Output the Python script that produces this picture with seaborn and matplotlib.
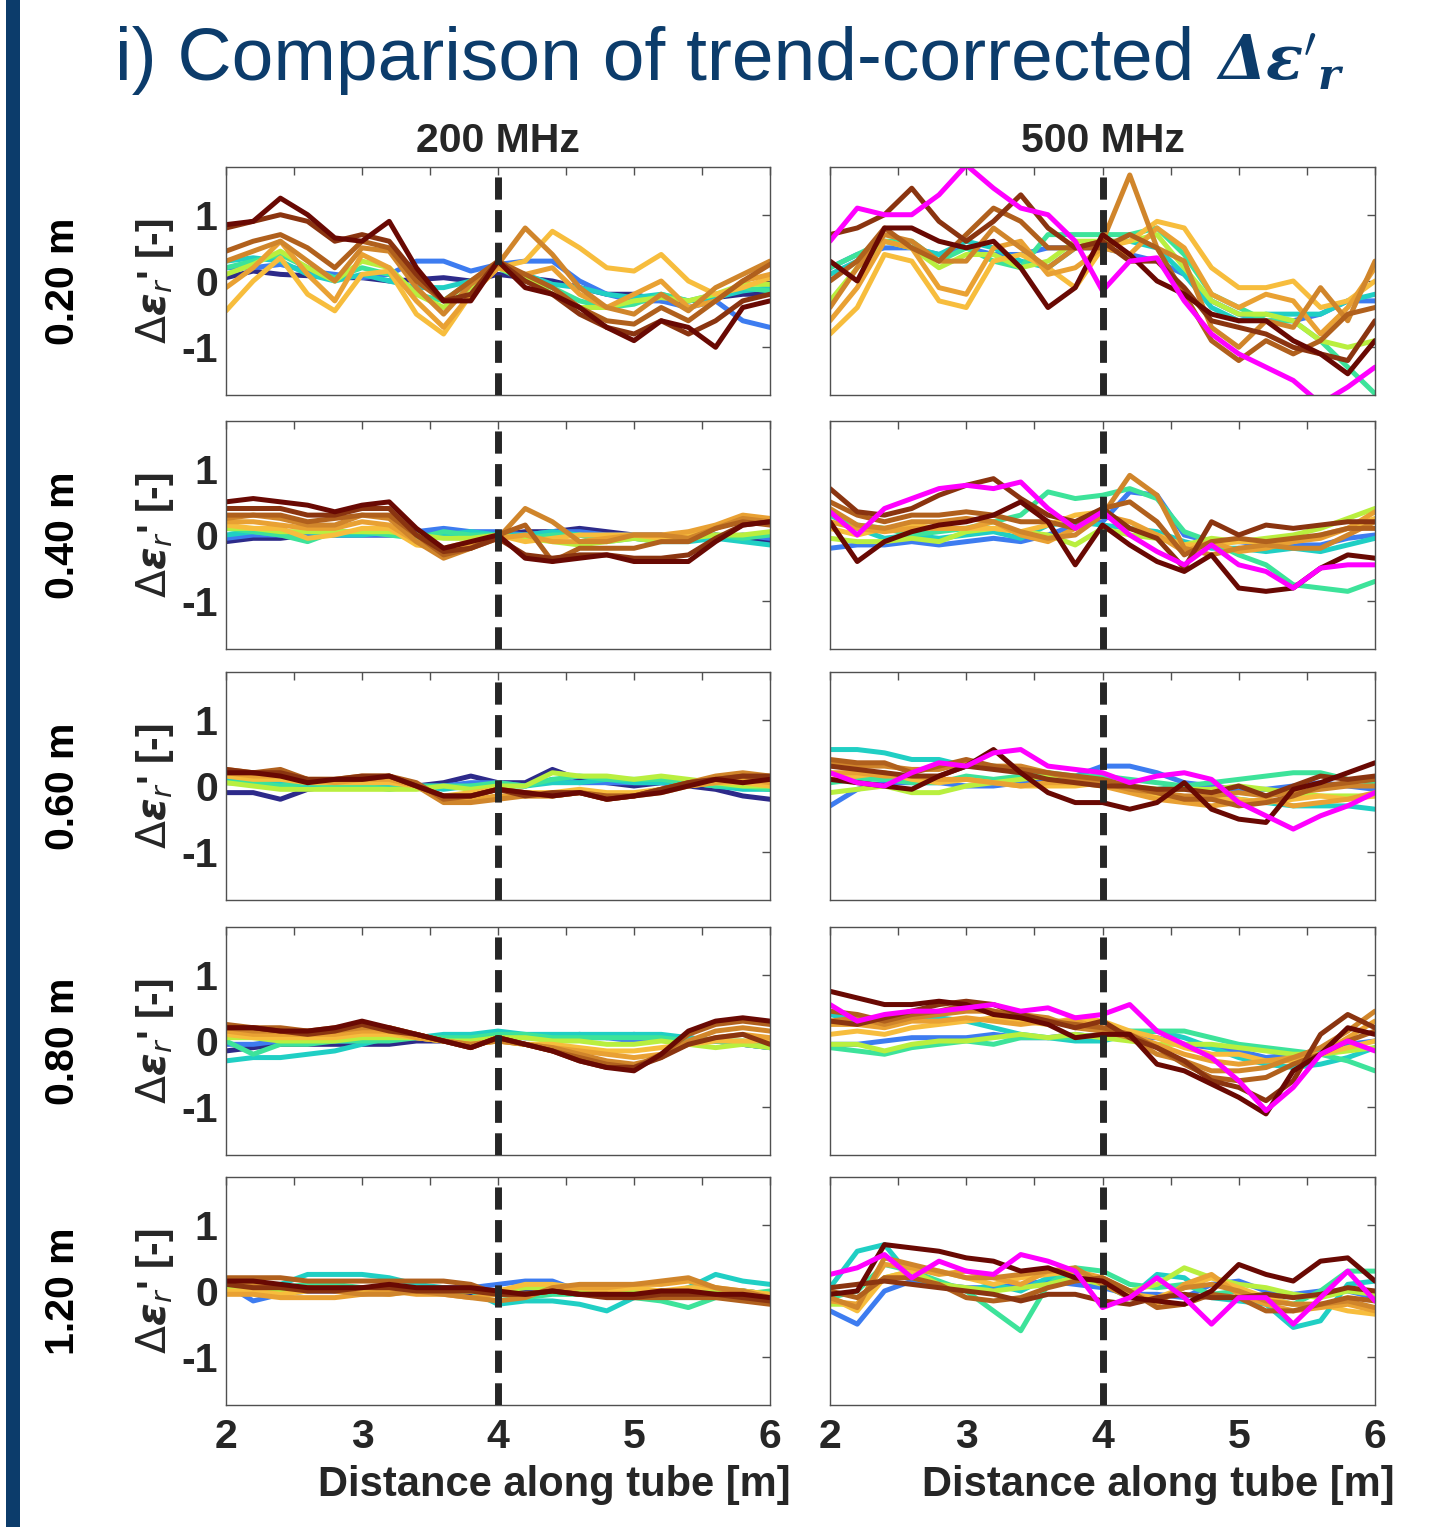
import numpy as np
import pandas as pd
import matplotlib
matplotlib.use("Agg")
import matplotlib.pyplot as plt
import seaborn as sns
from matplotlib.patches import Rectangle

# ---------------- data ----------------
x_m = [2.0, 2.2, 2.4, 2.6, 2.8, 3.0, 3.2, 3.4, 3.6, 3.8, 4.0,
       4.2, 4.4, 4.6, 4.8, 5.0, 5.2, 5.4, 5.6, 5.8, 6.0]

depths = ["0.20 m", "0.40 m", "0.60 m", "0.80 m", "1.20 m"]
freqs = ["200 MHz", "500 MHz"]
ytick_vals = [-1, 0, 1]
ytick_labels = ["-1", "0", "1"]
xtick_vals = [2, 2.5, 3, 3.5, 4, 4.5, 5, 5.5, 6]
xtick_labels = ["2", "", "3", "", "4", "", "5", "", "6"]
boundary_x = 4.0

# 200 MHz, 0.20 m  (runs ordered early -> late)
f200_d020 = [
    [0.05, 0.15, 0.10, 0.08, 0.05, 0.05, 0.00, 0.02, 0.05, 0.00, 0.10, 0.05, 0.00, -0.10, -0.20, -0.20, -0.30, -0.30, -0.25, -0.20, -0.20],
    [0.20, 0.20, 0.25, 0.15, 0.10, 0.05, 0.10, 0.30, 0.30, 0.15, 0.25, 0.30, 0.30, 0.00, -0.20, -0.30, -0.30, -0.40, -0.30, -0.60, -0.70],
    [0.30, 0.35, 0.30, 0.10, 0.00, 0.10, 0.00, -0.10, -0.10, 0.00, 0.20, 0.10, -0.05, -0.10, -0.20, -0.25, -0.20, -0.30, -0.25, -0.15, -0.10],
    [0.20, 0.30, 0.40, 0.20, 0.05, 0.20, 0.10, -0.20, -0.30, 0.00, 0.20, 0.00, -0.10, -0.30, -0.40, -0.35, -0.20, -0.30, -0.20, -0.10, -0.15],
    [0.10, 0.25, 0.45, 0.20, 0.00, 0.30, 0.20, -0.20, -0.40, -0.10, 0.20, 0.05, -0.20, -0.40, -0.40, -0.30, -0.25, -0.30, -0.20, -0.05, -0.05],
    [-0.45, 0.00, 0.35, -0.20, -0.45, 0.10, 0.15, -0.50, -0.80, -0.20, 0.20, 0.30, 0.75, 0.50, 0.20, 0.15, 0.40, 0.00, -0.20, -0.10, 0.05],
    [-0.10, 0.20, 0.60, 0.10, -0.30, 0.40, 0.20, -0.30, -0.70, -0.20, 0.20, 0.10, 0.20, -0.20, -0.40, -0.20, 0.00, -0.40, -0.30, 0.00, 0.10],
    [0.30, 0.45, 0.60, 0.30, 0.00, 0.50, 0.45, -0.10, -0.50, -0.05, 0.25, 0.80, 0.40, -0.10, -0.40, -0.50, -0.20, -0.45, -0.10, 0.10, 0.30],
    [0.45, 0.60, 0.70, 0.50, 0.20, 0.60, 0.50, 0.00, -0.30, 0.00, 0.30, 0.10, -0.10, -0.40, -0.60, -0.65, -0.40, -0.60, -0.30, 0.00, 0.25],
    [0.80, 0.90, 1.00, 0.90, 0.60, 0.70, 0.60, 0.10, -0.30, -0.20, 0.30, 0.00, -0.20, -0.50, -0.70, -0.80, -0.60, -0.80, -0.60, -0.30, -0.20],
    [0.85, 0.90, 1.25, 1.00, 0.65, 0.60, 0.90, 0.20, -0.30, -0.30, 0.30, -0.10, -0.20, -0.40, -0.70, -0.90, -0.60, -0.70, -1.00, -0.40, -0.30],
]
f200_d040 = [
    [-0.10, -0.05, -0.05, 0.00, 0.00, 0.00, 0.00, 0.00, 0.05, 0.00, 0.00, 0.05, 0.05, 0.10, 0.05, 0.00, 0.00, -0.05, 0.00, -0.05, -0.10],
    [-0.05, 0.00, 0.00, 0.00, 0.00, 0.00, 0.00, 0.05, 0.10, 0.05, 0.05, 0.00, 0.05, 0.05, 0.00, 0.00, -0.05, -0.05, -0.05, 0.00, -0.05],
    [0.00, 0.05, 0.00, 0.05, 0.00, 0.00, 0.05, 0.00, 0.00, 0.05, 0.00, 0.00, 0.05, 0.00, -0.05, -0.05, -0.10, -0.10, -0.05, -0.10, -0.15],
    [0.10, 0.05, 0.00, -0.10, 0.05, 0.05, 0.00, -0.05, 0.05, 0.00, 0.00, -0.05, 0.00, 0.00, -0.10, -0.05, -0.10, -0.05, 0.00, -0.05, 0.00],
    [0.10, 0.10, 0.05, 0.05, 0.05, 0.05, 0.05, 0.00, -0.05, -0.05, 0.00, -0.05, -0.10, -0.15, -0.10, -0.05, -0.10, -0.05, 0.00, 0.00, 0.05],
    [0.15, 0.10, 0.10, -0.05, 0.00, 0.10, 0.10, -0.15, -0.20, -0.10, 0.00, -0.10, -0.05, 0.00, 0.00, 0.00, -0.05, 0.00, 0.10, 0.25, 0.20],
    [0.20, 0.20, 0.15, 0.10, 0.10, 0.20, 0.15, -0.10, -0.25, -0.15, -0.05, 0.00, -0.10, -0.10, -0.05, 0.00, 0.00, 0.05, 0.15, 0.30, 0.25],
    [0.25, 0.30, 0.25, 0.15, 0.15, 0.30, 0.25, -0.10, -0.35, -0.20, -0.05, 0.40, 0.20, -0.10, -0.10, 0.00, 0.00, -0.05, 0.10, 0.25, 0.20],
    [0.30, 0.30, 0.30, 0.20, 0.25, 0.30, 0.30, 0.00, -0.30, -0.20, 0.00, 0.15, -0.40, -0.20, -0.20, -0.20, -0.10, -0.10, 0.10, 0.20, 0.15],
    [0.40, 0.40, 0.40, 0.30, 0.30, 0.40, 0.40, 0.00, -0.25, -0.20, -0.05, -0.30, -0.35, -0.30, -0.30, -0.35, -0.35, -0.30, -0.05, 0.15, 0.20],
    [0.50, 0.55, 0.50, 0.45, 0.35, 0.45, 0.50, 0.10, -0.20, -0.10, 0.00, -0.35, -0.40, -0.35, -0.30, -0.40, -0.40, -0.40, -0.10, 0.15, 0.20],
]
f200_d060 = [
    [-0.10, -0.10, -0.20, -0.05, 0.00, 0.00, 0.00, 0.00, 0.05, 0.15, 0.05, 0.05, 0.25, 0.10, 0.05, 0.00, 0.05, 0.00, -0.05, -0.15, -0.20],
    [0.05, 0.05, 0.00, 0.00, 0.00, 0.00, 0.00, 0.00, 0.00, 0.05, 0.05, 0.00, 0.10, 0.05, 0.05, 0.05, 0.05, 0.05, 0.00, 0.00, -0.05],
    [0.10, 0.05, 0.05, 0.00, 0.00, 0.00, 0.00, 0.00, -0.05, 0.00, 0.00, 0.00, 0.05, 0.05, 0.10, 0.05, 0.05, 0.05, 0.00, -0.05, -0.05],
    [0.05, 0.05, 0.00, 0.05, 0.00, 0.00, -0.05, 0.00, 0.00, 0.00, 0.05, 0.00, 0.10, 0.15, 0.10, 0.10, 0.10, 0.05, 0.00, 0.00, -0.05],
    [0.05, 0.00, -0.05, -0.05, -0.05, -0.05, -0.05, -0.05, 0.00, -0.05, 0.00, 0.00, 0.20, 0.15, 0.15, 0.10, 0.15, 0.10, 0.05, 0.00, 0.00],
    [0.15, 0.10, 0.10, 0.05, 0.05, 0.05, 0.05, 0.00, -0.15, -0.10, -0.05, -0.10, -0.10, -0.05, -0.10, -0.10, -0.05, 0.00, 0.05, 0.05, 0.00],
    [0.20, 0.15, 0.15, 0.10, 0.05, 0.10, 0.10, 0.00, -0.20, -0.20, -0.15, -0.15, -0.15, -0.10, -0.15, -0.15, -0.10, 0.00, 0.05, 0.10, 0.05],
    [0.25, 0.20, 0.20, 0.10, 0.10, 0.15, 0.15, 0.00, -0.25, -0.25, -0.20, -0.15, -0.15, -0.10, -0.20, -0.15, -0.05, 0.05, 0.15, 0.20, 0.15],
    [0.20, 0.20, 0.25, 0.10, 0.10, 0.10, 0.15, 0.05, -0.20, -0.15, -0.05, -0.10, -0.15, -0.10, -0.15, -0.15, -0.05, 0.05, 0.10, 0.15, 0.10],
    [0.25, 0.20, 0.20, 0.10, 0.10, 0.15, 0.15, 0.00, -0.15, -0.15, -0.05, -0.15, -0.10, -0.10, -0.20, -0.15, -0.05, 0.05, 0.10, 0.15, 0.15],
    [0.20, 0.20, 0.15, 0.05, 0.10, 0.10, 0.15, 0.00, -0.15, -0.15, -0.05, -0.10, -0.15, -0.10, -0.20, -0.15, -0.10, 0.00, 0.10, 0.05, 0.10],
]
f200_d080 = [
    [-0.15, -0.10, -0.05, -0.05, -0.05, -0.05, -0.05, 0.00, 0.00, 0.05, 0.10, 0.05, 0.05, 0.10, 0.05, 0.10, 0.05, 0.05, 0.00, -0.05, -0.10],
    [-0.05, -0.05, 0.00, 0.00, 0.00, 0.00, 0.05, 0.05, 0.05, 0.05, 0.05, 0.05, 0.05, 0.05, 0.05, 0.00, 0.05, 0.00, 0.00, -0.05, -0.10],
    [-0.30, -0.25, -0.25, -0.20, -0.15, -0.05, 0.05, 0.05, 0.10, 0.10, 0.15, 0.10, 0.10, 0.10, 0.10, 0.10, 0.10, 0.05, 0.00, -0.05, -0.10],
    [0.00, -0.20, -0.05, -0.05, 0.00, 0.00, 0.00, 0.05, 0.05, 0.05, 0.10, 0.10, 0.05, 0.05, 0.05, 0.05, 0.05, 0.00, 0.00, 0.00, -0.05],
    [0.05, 0.05, 0.00, 0.00, 0.00, 0.05, 0.05, 0.05, 0.00, 0.00, 0.05, 0.05, 0.00, 0.00, -0.05, -0.05, 0.00, -0.05, -0.10, -0.05, -0.10],
    [0.10, 0.05, 0.05, 0.05, 0.05, 0.10, 0.10, 0.05, 0.00, -0.05, 0.00, -0.05, -0.05, -0.10, -0.15, -0.15, -0.10, -0.05, 0.00, 0.00, 0.00],
    [0.15, 0.10, 0.10, 0.10, 0.10, 0.15, 0.15, 0.05, 0.00, -0.05, 0.00, -0.05, -0.10, -0.15, -0.20, -0.25, -0.20, -0.05, 0.05, 0.10, 0.05],
    [0.20, 0.15, 0.15, 0.15, 0.15, 0.20, 0.20, 0.10, 0.00, -0.05, 0.00, -0.05, -0.10, -0.20, -0.30, -0.35, -0.25, 0.00, 0.15, 0.20, 0.15],
    [0.25, 0.20, 0.20, 0.15, 0.20, 0.25, 0.20, 0.10, 0.00, -0.10, 0.05, -0.05, -0.15, -0.25, -0.35, -0.40, -0.20, 0.10, 0.25, 0.30, 0.25],
    [0.20, 0.20, 0.15, 0.10, 0.15, 0.25, 0.15, 0.10, 0.00, -0.10, 0.05, -0.05, -0.15, -0.30, -0.40, -0.40, -0.25, -0.05, 0.05, 0.10, -0.05],
    [0.20, 0.20, 0.15, 0.15, 0.20, 0.30, 0.20, 0.10, 0.00, -0.10, 0.05, -0.05, -0.15, -0.30, -0.40, -0.45, -0.20, 0.15, 0.30, 0.35, 0.30],
]
f200_d120 = [
    [0.05, 0.05, 0.00, 0.00, 0.00, 0.00, 0.00, 0.00, 0.00, -0.05, 0.00, 0.00, 0.00, -0.05, -0.05, 0.00, 0.00, 0.00, 0.00, 0.00, -0.05],
    [0.10, -0.15, -0.05, 0.00, 0.05, 0.05, 0.05, 0.05, 0.05, 0.05, 0.10, 0.15, 0.15, 0.00, -0.05, -0.05, 0.00, 0.00, 0.00, 0.00, -0.05],
    [0.15, 0.10, 0.10, 0.25, 0.25, 0.25, 0.20, 0.10, 0.05, 0.00, -0.20, -0.15, -0.15, -0.20, -0.30, -0.10, -0.05, 0.05, 0.25, 0.15, 0.10],
    [0.10, 0.05, 0.05, 0.10, 0.10, 0.05, 0.05, 0.05, 0.00, 0.00, -0.05, -0.10, -0.05, -0.05, -0.05, -0.10, -0.15, -0.25, -0.10, -0.05, 0.00],
    [0.05, 0.00, 0.00, 0.05, 0.05, 0.00, 0.00, 0.00, 0.00, 0.00, 0.00, 0.05, 0.05, 0.00, -0.05, 0.00, 0.00, 0.00, 0.00, 0.00, -0.05],
    [0.00, 0.00, -0.05, 0.00, 0.05, 0.00, -0.05, 0.00, 0.00, 0.00, 0.00, 0.10, 0.10, 0.05, 0.00, 0.05, 0.00, 0.05, 0.05, 0.00, -0.05],
    [-0.05, -0.05, -0.10, -0.10, -0.10, -0.05, 0.00, -0.05, -0.05, -0.10, -0.05, -0.05, 0.00, 0.05, 0.05, 0.10, 0.10, 0.15, 0.05, -0.05, -0.15],
    [0.10, 0.10, 0.05, 0.05, 0.00, -0.05, -0.05, 0.00, -0.05, -0.10, -0.15, -0.10, 0.05, 0.10, 0.10, 0.10, 0.15, 0.20, 0.05, 0.00, -0.10],
    [0.20, 0.20, 0.20, 0.15, 0.15, 0.15, 0.15, 0.15, 0.15, 0.10, -0.05, -0.05, 0.00, -0.05, -0.05, -0.10, -0.10, -0.10, -0.10, -0.15, -0.20],
    [0.10, 0.05, 0.05, 0.00, 0.00, 0.05, 0.05, 0.00, 0.00, 0.00, -0.05, -0.05, 0.00, -0.05, -0.10, -0.10, -0.05, -0.05, -0.05, -0.10, -0.15],
    [0.15, 0.15, 0.10, 0.05, 0.05, 0.05, 0.10, 0.05, 0.05, 0.05, 0.00, -0.05, 0.00, -0.05, -0.05, -0.05, 0.00, 0.00, -0.05, -0.05, -0.10],
]

# 500 MHz
f500_d020 = [
    [0.20, 0.40, 0.50, 0.50, 0.40, 0.50, 0.40, 0.40, 0.50, 0.50, 0.50, 0.40, 0.30, 0.10, -0.30, -0.50, -0.60, -0.60, -0.50, -0.30, -0.30],
    [0.10, 0.30, 0.60, 0.50, 0.40, 0.60, 0.50, 0.30, 0.20, 0.50, 0.60, 0.60, 0.50, 0.10, -0.40, -0.60, -0.50, -0.50, -0.50, -0.30, -0.20],
    [0.20, 0.40, 0.60, 0.60, 0.30, 0.50, 0.30, 0.20, 0.70, 0.70, 0.70, 0.70, 0.80, 0.40, -0.20, -0.40, -0.60, -0.60, -0.90, -1.30, -1.70],
    [-0.30, 0.20, 0.60, 0.50, 0.20, 0.40, 0.40, 0.20, 0.30, 0.60, 0.60, 0.60, 0.70, 0.20, -0.30, -0.50, -0.50, -0.60, -0.90, -1.00, -0.90],
    [-0.80, -0.40, 0.40, 0.30, -0.30, -0.40, 0.30, 0.40, 0.20, -0.10, 0.50, 0.60, 0.90, 0.80, 0.20, -0.10, -0.10, 0.00, -0.40, -0.30, 0.00],
    [-0.60, -0.10, 0.60, 0.50, -0.10, -0.20, 0.50, 0.60, 0.10, 0.20, 0.50, 0.40, 0.80, 0.50, -0.20, -0.40, -0.20, -0.30, -0.80, -0.40, 0.20],
    [-0.40, 0.20, 0.70, 0.60, 0.30, 0.30, 0.80, 0.50, 0.20, 0.50, 0.60, 1.60, 0.50, 0.30, -0.70, -1.00, -0.60, -0.70, -0.10, -0.60, 0.30],
    [0.00, 0.30, 0.80, 0.50, 0.30, 0.70, 1.10, 0.90, 0.50, 0.50, 0.50, 0.70, 0.50, -0.20, -0.90, -1.20, -0.90, -1.10, -0.90, -0.50, -0.40],
    [0.70, 0.80, 1.00, 1.40, 0.90, 0.60, 0.90, 1.30, 0.80, 0.50, 0.60, 0.30, 0.30, -0.10, -0.60, -0.70, -0.80, -1.00, -1.10, -1.20, -0.60],
    [0.30, 0.00, 0.80, 0.80, 0.60, 0.50, 0.60, 0.20, -0.40, -0.10, 0.70, 0.40, 0.00, -0.20, -0.50, -0.60, -0.60, -0.90, -1.10, -1.40, -0.90],
]
f500_d040 = [
    [-0.20, -0.15, -0.15, -0.10, -0.15, -0.10, -0.05, -0.10, 0.00, 0.15, 0.20, 0.65, 0.60, 0.00, -0.10, -0.10, -0.15, -0.15, -0.15, -0.05, 0.00],
    [0.30, 0.10, -0.05, 0.00, -0.05, 0.00, 0.05, -0.05, 0.15, 0.20, 0.15, 0.10, 0.05, -0.10, -0.20, -0.20, -0.25, -0.20, -0.25, -0.15, -0.05],
    [0.30, 0.15, 0.10, 0.00, 0.05, 0.10, 0.20, 0.30, 0.65, 0.55, 0.60, 0.70, 0.55, 0.05, -0.10, -0.30, -0.45, -0.75, -0.80, -0.85, -0.70],
    [-0.05, -0.10, -0.10, -0.05, -0.10, 0.05, 0.10, 0.05, 0.00, -0.15, 0.10, 0.00, -0.05, -0.15, -0.05, -0.10, -0.05, 0.00, 0.10, 0.25, 0.40],
    [0.10, 0.00, 0.10, 0.15, 0.10, 0.10, 0.10, 0.05, 0.15, 0.30, 0.35, 0.10, 0.00, -0.15, -0.15, -0.10, -0.10, -0.10, 0.00, 0.10, 0.25],
    [0.20, 0.10, 0.05, 0.10, 0.10, 0.10, 0.20, 0.00, -0.10, 0.10, 0.30, 0.20, 0.00, -0.25, -0.10, -0.25, -0.20, -0.10, -0.05, 0.10, 0.35],
    [0.40, 0.15, 0.10, 0.20, 0.20, 0.25, 0.20, 0.05, -0.05, 0.00, 0.30, 0.90, 0.60, -0.20, -0.30, -0.20, -0.15, -0.20, -0.20, 0.00, 0.20],
    [0.50, 0.30, 0.20, 0.30, 0.30, 0.35, 0.30, 0.20, 0.20, 0.10, 0.40, 0.50, 0.20, -0.30, -0.10, -0.05, -0.10, -0.05, 0.00, 0.10, 0.10],
    [0.70, 0.35, 0.30, 0.40, 0.60, 0.75, 0.85, 0.55, 0.30, 0.20, 0.40, 0.10, -0.05, -0.50, 0.20, 0.00, 0.15, 0.10, 0.15, 0.20, 0.20],
    [0.20, -0.40, -0.10, 0.05, 0.15, 0.20, 0.30, 0.50, 0.20, -0.45, 0.15, -0.15, -0.40, -0.55, -0.30, -0.80, -0.85, -0.80, -0.50, -0.30, -0.35],
]
f500_d060 = [
    [-0.30, -0.05, 0.05, 0.05, 0.05, 0.00, 0.00, 0.05, 0.10, 0.15, 0.30, 0.30, 0.20, 0.05, 0.00, -0.05, -0.05, 0.00, 0.05, 0.00, -0.05],
    [0.55, 0.55, 0.50, 0.40, 0.40, 0.30, 0.30, 0.25, 0.20, 0.10, 0.00, -0.05, -0.05, 0.00, -0.10, -0.20, -0.25, -0.30, -0.30, -0.30, -0.35],
    [0.05, 0.10, 0.10, 0.05, 0.05, 0.15, 0.10, 0.15, 0.20, 0.15, 0.15, 0.10, 0.05, 0.00, 0.05, 0.10, 0.15, 0.20, 0.20, 0.10, 0.05],
    [-0.10, -0.05, 0.00, -0.10, -0.10, 0.00, 0.05, 0.10, 0.15, 0.15, 0.05, 0.00, -0.05, -0.05, -0.05, 0.00, -0.05, -0.10, -0.15, -0.15, -0.15],
    [0.10, 0.15, 0.20, 0.10, 0.05, 0.10, 0.05, 0.00, 0.00, 0.00, 0.05, -0.05, -0.15, -0.20, -0.20, -0.20, -0.25, -0.20, -0.15, -0.20, -0.15],
    [0.20, 0.20, 0.15, 0.15, 0.10, 0.10, 0.05, 0.00, 0.05, 0.05, 0.00, -0.10, -0.20, -0.25, -0.30, -0.25, -0.20, -0.30, -0.25, -0.20, -0.10],
    [0.35, 0.30, 0.30, 0.25, 0.25, 0.35, 0.30, 0.30, 0.20, 0.10, 0.05, -0.05, -0.10, -0.15, -0.15, -0.10, -0.15, -0.10, -0.05, 0.00, 0.00],
    [0.40, 0.35, 0.35, 0.20, 0.30, 0.40, 0.30, 0.25, 0.20, 0.15, 0.10, 0.00, -0.10, -0.20, -0.20, -0.30, -0.25, -0.15, 0.00, 0.05, 0.10],
    [0.30, 0.25, 0.20, 0.15, 0.15, 0.30, 0.25, 0.20, 0.10, 0.05, 0.00, 0.00, -0.05, -0.05, -0.10, 0.00, -0.15, 0.00, 0.15, 0.10, 0.15],
    [0.10, 0.05, 0.00, -0.05, 0.15, 0.30, 0.55, 0.20, -0.10, -0.25, -0.25, -0.35, -0.25, 0.05, -0.35, -0.50, -0.55, -0.05, 0.05, 0.20, 0.35],
]
f500_d080 = [
    [-0.05, -0.05, 0.00, 0.05, 0.05, 0.05, 0.10, 0.05, 0.05, 0.10, 0.05, 0.05, 0.05, -0.05, -0.10, -0.15, -0.25, -0.20, -0.15, -0.05, 0.00],
    [0.40, 0.30, 0.25, 0.35, 0.35, 0.30, 0.20, 0.10, 0.05, 0.00, 0.00, 0.10, 0.15, 0.05, -0.10, -0.25, -0.35, -0.40, -0.35, -0.25, -0.10],
    [-0.10, -0.15, -0.20, -0.10, -0.05, 0.00, -0.05, 0.05, 0.05, 0.05, 0.10, 0.15, 0.15, 0.15, 0.05, -0.05, -0.10, -0.15, -0.20, -0.30, -0.45],
    [-0.05, -0.05, -0.15, -0.05, 0.00, 0.00, 0.05, 0.10, 0.05, 0.10, 0.05, 0.00, -0.05, -0.05, -0.05, -0.10, -0.15, -0.20, -0.20, -0.15, -0.10],
    [0.10, 0.15, 0.10, 0.20, 0.25, 0.30, 0.35, 0.30, 0.25, 0.35, 0.30, 0.15, 0.05, -0.10, -0.20, -0.20, -0.30, -0.30, -0.20, -0.10, 0.00],
    [0.25, 0.25, 0.20, 0.30, 0.30, 0.35, 0.30, 0.25, 0.30, 0.30, 0.20, 0.10, -0.05, -0.20, -0.30, -0.35, -0.30, -0.25, -0.20, 0.05, 0.30],
    [0.30, 0.35, 0.25, 0.35, 0.40, 0.45, 0.45, 0.40, 0.35, 0.20, 0.15, 0.05, -0.20, -0.30, -0.45, -0.45, -0.40, -0.25, -0.10, 0.15, 0.45],
    [0.45, 0.40, 0.30, 0.40, 0.45, 0.55, 0.45, 0.35, 0.30, 0.25, 0.20, 0.10, -0.10, -0.35, -0.55, -0.60, -0.55, -0.35, -0.20, 0.00, 0.15],
    [0.30, 0.25, 0.35, 0.45, 0.55, 0.60, 0.55, 0.40, 0.30, 0.20, 0.30, 0.05, -0.10, -0.30, -0.60, -0.70, -0.90, -0.60, 0.10, 0.40, 0.20],
    [0.75, 0.65, 0.55, 0.55, 0.60, 0.55, 0.40, 0.35, 0.25, 0.05, 0.10, 0.10, -0.35, -0.45, -0.65, -0.85, -1.10, -0.45, -0.20, 0.20, 0.10],
]
f500_d120 = [
    [-0.30, -0.50, 0.00, 0.15, 0.10, 0.05, 0.05, 0.10, 0.15, 0.10, 0.05, -0.05, -0.05, -0.10, 0.10, 0.15, 0.00, -0.05, 0.00, 0.00, -0.10],
    [0.05, 0.60, 0.70, 0.20, 0.10, 0.00, 0.10, 0.00, 0.20, 0.25, 0.10, -0.10, 0.25, 0.20, -0.10, -0.15, -0.20, -0.55, -0.45, 0.10, 0.15],
    [-0.10, 0.00, 0.40, 0.30, 0.15, 0.00, -0.30, -0.60, 0.10, 0.35, 0.30, 0.10, 0.05, 0.10, -0.05, 0.00, -0.10, -0.20, 0.00, 0.30, 0.30],
    [-0.20, -0.20, 0.20, 0.30, 0.10, 0.05, 0.00, 0.05, 0.10, 0.20, 0.10, 0.00, 0.10, 0.35, 0.20, 0.10, 0.05, -0.05, -0.10, 0.00, -0.05],
    [-0.10, -0.30, 0.20, 0.30, 0.30, 0.20, 0.10, 0.20, 0.25, 0.30, 0.15, -0.05, -0.10, 0.05, 0.20, 0.05, -0.10, -0.20, -0.20, -0.30, -0.35],
    [-0.15, -0.20, 0.40, 0.35, 0.25, 0.30, 0.20, 0.10, 0.30, 0.30, 0.20, 0.00, -0.20, 0.10, 0.25, -0.05, -0.20, -0.30, -0.25, -0.20, -0.30],
    [-0.10, -0.25, 0.50, 0.40, 0.30, 0.20, 0.20, 0.25, 0.30, 0.35, 0.10, -0.10, -0.15, 0.05, 0.10, 0.00, -0.15, -0.20, -0.20, -0.15, -0.25],
    [0.00, -0.10, 0.20, 0.20, 0.10, -0.10, -0.15, -0.10, 0.05, 0.15, 0.20, 0.00, -0.25, -0.20, -0.05, -0.10, -0.30, -0.30, -0.20, -0.10, -0.15],
    [0.05, 0.10, 0.15, 0.10, 0.05, 0.00, -0.05, -0.15, -0.05, -0.05, -0.15, -0.20, -0.10, -0.05, -0.10, -0.10, -0.05, -0.10, -0.05, 0.05, 0.00],
    [-0.05, 0.00, 0.70, 0.65, 0.60, 0.50, 0.45, 0.30, 0.35, 0.20, 0.15, -0.10, -0.15, -0.20, 0.00, 0.40, 0.25, 0.15, 0.45, 0.50, 0.15],
]

# highlighted (magenta) run, 500 MHz only
mag_d020 = [0.60, 1.10, 1.00, 1.00, 1.30, 1.75, 1.40, 1.10, 1.00, 0.60, -0.15, 0.30, 0.35, -0.30, -0.80, -1.10, -1.30, -1.50, -1.85, -1.60, -1.30]
mag_d040 = [0.35, 0.00, 0.40, 0.55, 0.70, 0.75, 0.70, 0.80, 0.40, 0.10, 0.35, 0.00, -0.25, -0.45, -0.15, -0.45, -0.55, -0.80, -0.50, -0.45, -0.45]
mag_d060 = [0.20, 0.05, 0.00, 0.20, 0.35, 0.30, 0.50, 0.55, 0.30, 0.25, 0.20, 0.05, 0.15, 0.20, 0.10, -0.25, -0.45, -0.65, -0.45, -0.30, -0.10]
mag_d080 = [0.55, 0.30, 0.40, 0.45, 0.45, 0.50, 0.55, 0.45, 0.50, 0.35, 0.40, 0.55, 0.15, -0.05, -0.25, -0.60, -1.05, -0.70, -0.20, 0.00, -0.15]
mag_d120 = [0.25, 0.35, 0.55, 0.20, 0.45, 0.30, 0.25, 0.55, 0.45, 0.30, -0.25, -0.10, 0.20, -0.10, -0.50, -0.10, -0.10, -0.50, -0.10, 0.30, -0.15]

panels_200 = [f200_d020, f200_d040, f200_d060, f200_d080, f200_d120]
panels_500 = [f500_d020, f500_d040, f500_d060, f500_d080, f500_d120]
magenta_500 = [mag_d020, mag_d040, mag_d060, mag_d080, mag_d120]

# ---------------- style ----------------
sns.set_theme(style="white")
FONT = ["Liberation Sans Narrow", "Liberation Sans", "DejaVu Sans"]
plt.rcParams["font.family"] = FONT
plt.rcParams["axes.unicode_minus"] = False

run_colors = ["#2d2a8a", "#3d7cf0", "#20cfc4", "#3de39a", "#b9ef3f", "#f7bd3d",
              "#e9a133", "#d0852b", "#b0601d", "#8a3410", "#690903"]
MAGENTA = "#ff00ff"
DARK = "#262626"
BLUE = "#0c3c6b"
LW = 3.6
FS = 29.5

W, H = 1440, 1527
fig = plt.figure(figsize=(W / 100, H / 100), dpi=100)
fig.patch.set_facecolor("white")
fig.add_artist(Rectangle((6 / W, 0), 14 / W, 1, transform=fig.transFigure,
                         facecolor=BLUE, edgecolor="none"))

col_left = [226, 830]
col_w = [544, 545]
row_top = [167, 421, 672, 927, 1177]
row_h = 228

for r in range(5):
    for c in range(2):
        ax = fig.add_axes([col_left[c] / W, 1 - (row_top[r] + row_h) / H,
                           col_w[c] / W, row_h / H])
        runs = panels_200[r] if c == 0 else panels_500[r]
        cols = run_colors if c == 0 else run_colors[1:]
        names = [f"run{i:02d}" for i in range(len(runs))]
        df = pd.DataFrame({
            "x": np.tile(x_m, len(runs)),
            "y": np.concatenate([np.asarray(v, float) for v in runs]),
            "run": np.repeat(names, len(x_m)),
        })
        sns.lineplot(data=df, x="x", y="y", hue="run", hue_order=names,
                     palette=dict(zip(names, cols)), legend=False, ax=ax,
                     linewidth=LW, estimator=None, sort=False)
        if c == 1:
            sns.lineplot(x=x_m, y=magenta_500[r], color=MAGENTA, ax=ax,
                         linewidth=LW, estimator=None, sort=False)
        ax.axvline(boundary_x, color=DARK, lw=5, ls=(0, (3.2, 1.5)), zorder=10)
        ax.set_xlim(2, 6)
        ax.set_ylim(-1.72, 1.72)
        ax.set_xticks(xtick_vals)
        ax.set_yticks(ytick_vals)
        ax.tick_params(direction="in", length=6, width=1.0, color="#505050",
                       top=True, right=True, labelsize=FS, pad=6)
        for sp in ax.spines.values():
            sp.set_color("#505050")
            sp.set_linewidth(1.0)
        ax.set_xlabel("")
        ax.set_ylabel("")
        if r == 4:
            ax.set_xticklabels(xtick_labels, fontweight="bold", color=DARK)
            ax.tick_params(axis="x", pad=9)
            ax.set_xlabel("Distance along tube [m]", fontsize=FS + 0.5,
                          fontweight="bold", color=DARK)
            ax.xaxis.set_label_coords(0.603, -0.265)
        else:
            ax.set_xticklabels([])
        if c == 0:
            ax.set_yticklabels(ytick_labels, fontweight="bold", color=DARK)
            ax.set_ylabel(r"$\Delta\mathbfit{\varepsilon}_{r}$" + "' [-]",
                          fontsize=FS, fontweight="bold", color=DARK,
                          math_fontfamily="dejavusans", va="center")
            ax.yaxis.set_label_coords(-0.13, 0.5)
            ax.text(-0.30, 0.5, depths[r], rotation=90, transform=ax.transAxes,
                    ha="center", va="center", fontsize=FS, fontweight="bold",
                    color="black")
        else:
            ax.set_yticklabels([])
        if r == 0:
            ax.text(0.5, 1 + 26 / row_h, freqs[c], transform=ax.transAxes,
                    ha="center", va="center", fontsize=FS, fontweight="bold",
                    color=DARK)

title_y = 1 - 80 / H
t1 = fig.text(115 / W, title_y, "i) Comparison of trend-corrected",
              fontsize=54, color=BLUE, ha="left", va="baseline")
fig.canvas.draw()
bb = t1.get_window_extent()
fig.text((bb.x1 + 22) / W, title_y,
         r"$\mathbfit{\Delta\varepsilon}'_{\mathbfit{r}}$",
         fontsize=44, color=BLUE, ha="left", va="baseline",
         math_fontfamily="dejavuserif")

fig.savefig("out.png", dpi=100, facecolor="white")
